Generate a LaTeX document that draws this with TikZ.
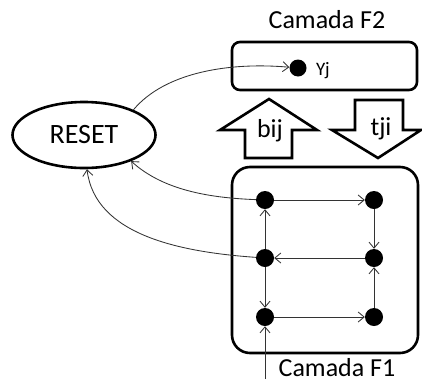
\documentclass[tikz,border=0pt]{standalone}
\usepackage{fontspec}
\setmainfont{Carlito}
\usetikzlibrary{arrows.meta,shapes.geometric}
\begin{document}
\begin{tikzpicture}[x=1pt,y=-1pt,
  frame/.style={draw, line width=2.6pt},
  layerbox/.style={frame, rectangle, inner sep=0pt},
  dot/.style={circle, fill=black, inner sep=0pt, minimum size=18pt},
  link/.style={draw=black!80, line width=0.85pt, -{Straight Barb[length=6pt,width=10pt]}},
  lbl/.style={font=\fontsize{26}{26}\selectfont, inner sep=0pt}]
\useasboundingbox (0,0) rectangle (422,386);

% layer F2
\node[layerbox, rounded corners=8pt, minimum width=185pt, minimum height=48pt] (f2) at (324.5,66) {};
\node[lbl] (f2title) at (327,20) {Camada F2};
\node[dot, minimum size=17pt] (yj) at (298,68) {};
\node[font=\fontsize{19}{19}\selectfont, inner sep=0pt, anchor=west] (yjlabel) at (316,71) {Yj};

% layer F1
\node[layerbox, rounded corners=18pt, minimum width=186pt, minimum height=186pt] (f1) at (325,260) {};
\node[lbl] (f1title) at (337,368) {Camada F1};
\node[dot] (a1) at (265,200) {};
\node[dot] (a2) at (374,200) {};
\node[dot] (b1) at (265,258) {};
\node[dot] (b2) at (374,258) {};
\node[dot] (c1) at (265,317) {};
\node[dot] (c2) at (374,317) {};
\coordinate (input) at (265,379);

% reset unit
\node[frame, ellipse, minimum width=143pt, minimum height=66pt, inner sep=0pt,
      font=\fontsize{28}{28}\selectfont] (reset) at (84,135) {RESET};

% bottom-up and top-down weights
\draw[frame, line join=miter] (269,99) -- (317,130) -- (292,130) -- (292,158)
  -- (245,158) -- (245,130) -- (220,130) -- cycle;
\node[lbl] (bij) at (270,131) {bij};
\draw[frame, line join=miter] (355,100) -- (403,100) -- (403,130) -- (421,130)
  -- (378,158) -- (332,130) -- (355,130) -- cycle;
\node[lbl] (tji) at (381,129) {tji};

% connections inside F1
\draw[link] (a1) -- (a2);
\draw[link] (a2) -- (b2);
\draw[link] (b2) -- (b1);
\draw[link] (b1) -- (a1);
\draw[link] (b1) -- (c1);
\draw[link] (c1) -- (c2);
\draw[link] (c2) -- (b2);
\draw[link] (input) -- (c1);

% reset signals
\draw[link] (reset.27) .. controls (165,72) and (230,62) .. (yj);
\draw[link] (a1) .. controls (215,198) and (165,192) .. (reset.331);
\draw[link] (b1) .. controls (180,252) and (95,235) .. (reset.275);
\end{tikzpicture}
\end{document}
